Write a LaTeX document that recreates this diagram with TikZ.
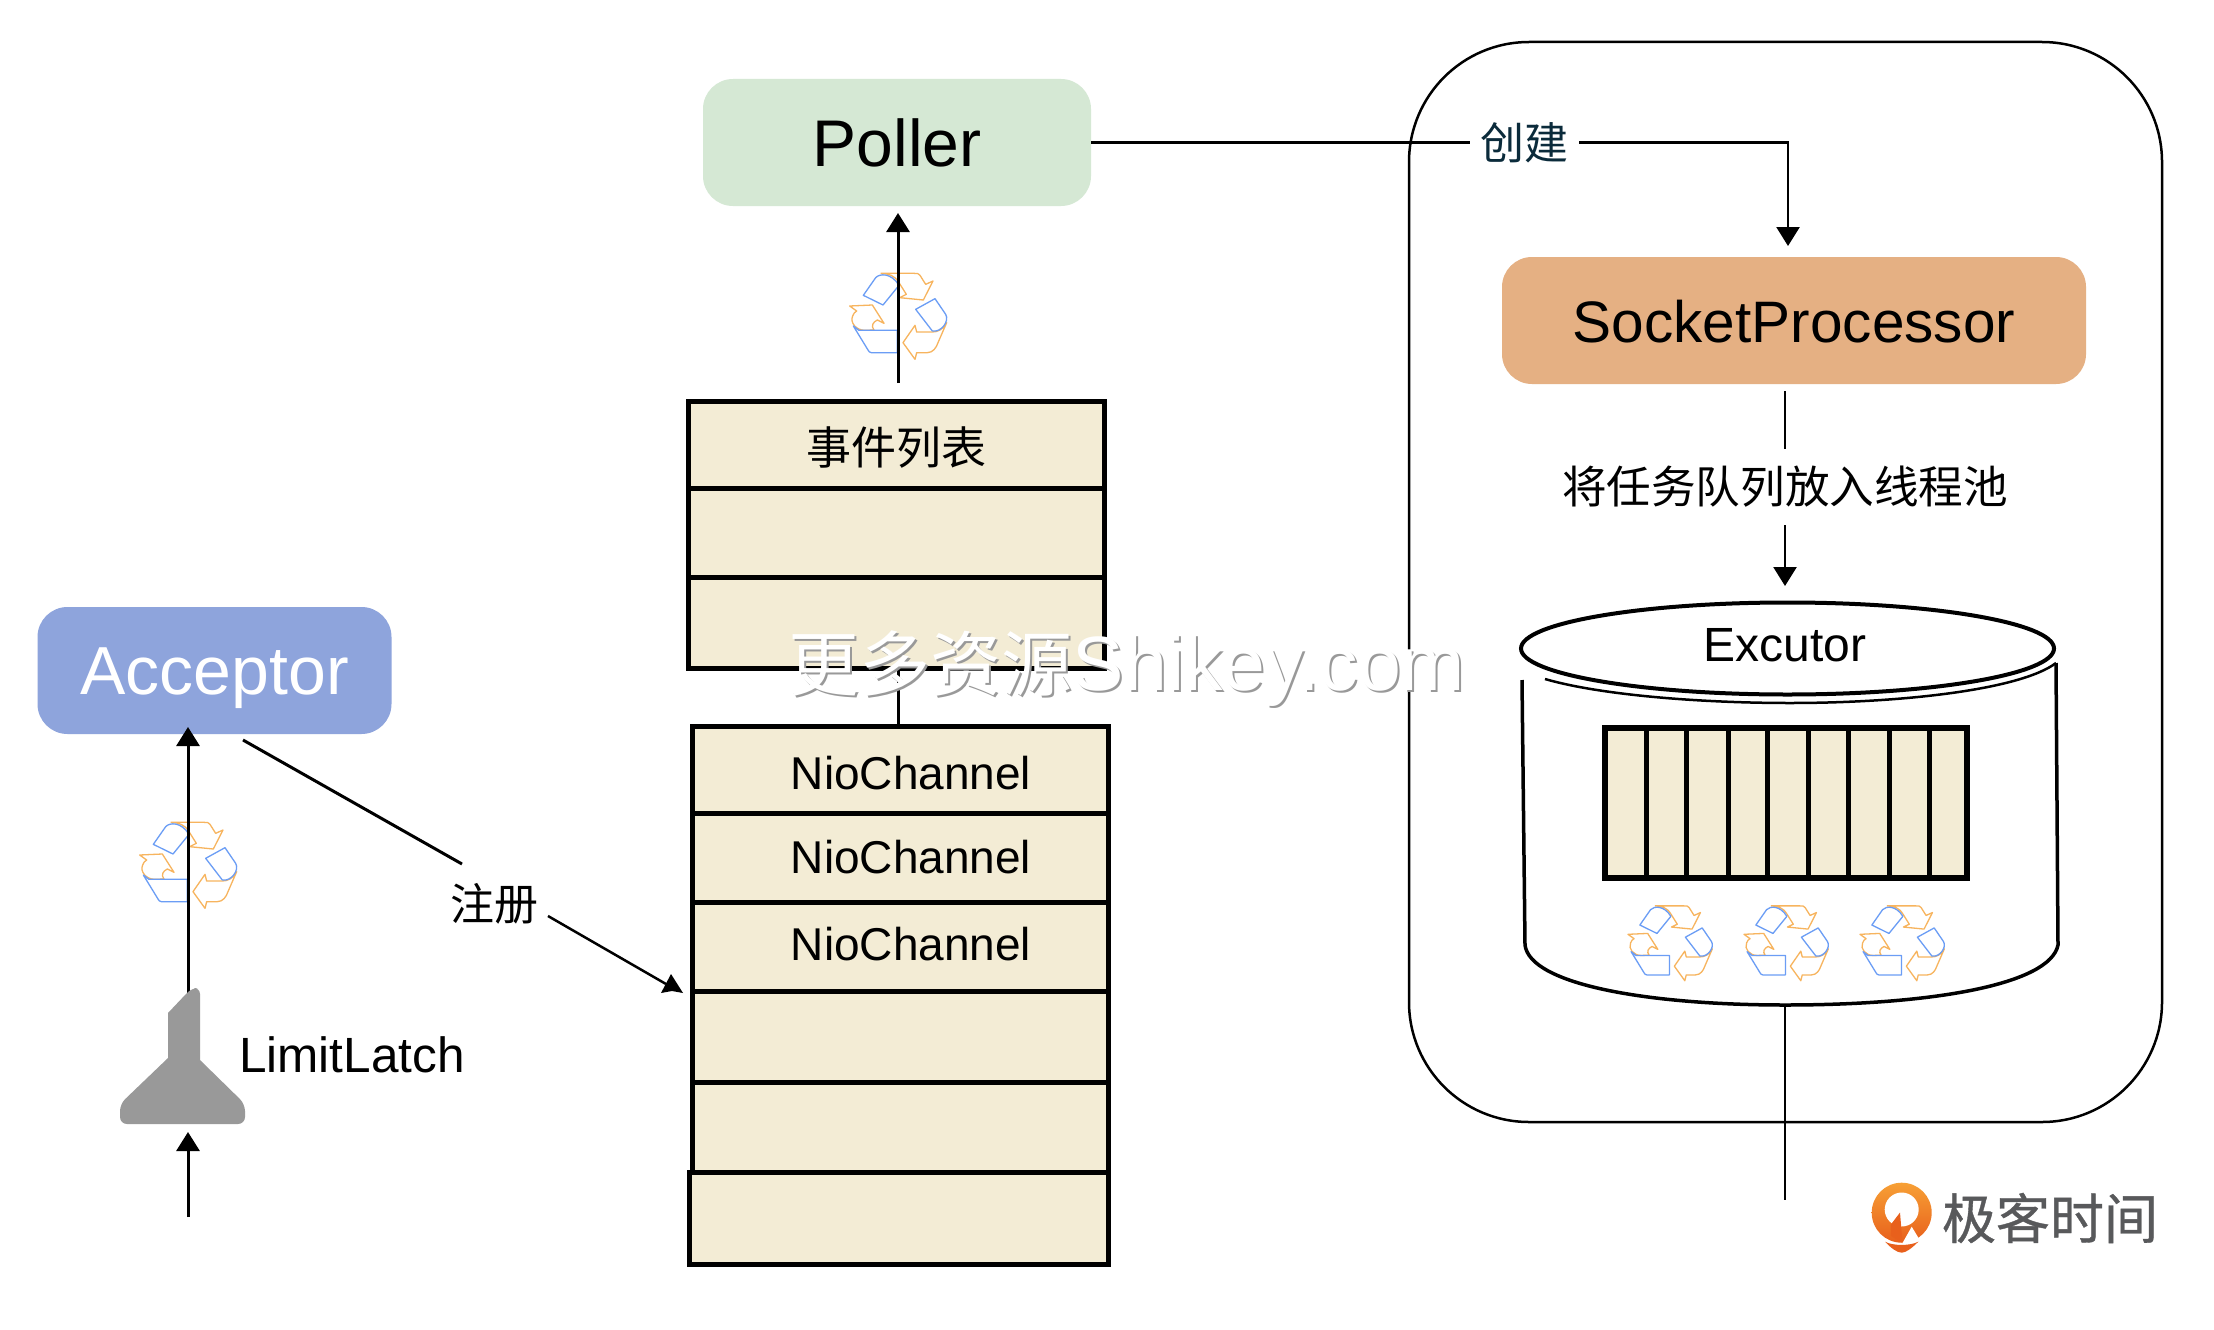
\documentclass[tikz,border=0pt]{standalone}
\usepackage{fontspec}
\setmainfont{Liberation Sans}
\newfontfamily\cjk{Noto Sans CJK SC}
\newfontfamily\cjkb[FakeBold=0.7]{Noto Sans CJK SC}
\usetikzlibrary{arrows.meta,shapes.geometric,calc}
\newcommand{\fs}[1]{\fontsize{#1}{#1}\selectfont}
\newcommand{\dn}[2]{\raisebox{0pt}[\dimexpr\height+2\dimexpr#1\relax\relax][\depth]{#2}}
\tikzset{
  colbox/.style={rounded corners=30pt,minimum width=#1,inner sep=0pt,outer sep=0pt,minimum height=127pt},
  cell/.style={draw=black,line width=5pt,fill=cellfill,minimum width=416pt,inner sep=0pt,outer sep=0pt,font=\fs{46}},
  conn/.style={line width=3pt,-{Triangle[width=23pt,length=19pt]}},
  plainln/.style={line width=3pt},
  lab/.style={inner sep=0pt,outer sep=0pt},
  iconblue/.style={draw=iblue,line width=1.3pt,line join=round},
  iconorange/.style={draw=iorange,line width=1.3pt,line join=round},
  thinln/.style={line width=2.5pt}
}
\definecolor{cellfill}{HTML}{F3ECD5}
\definecolor{iblue}{HTML}{6B9DF5}
\definecolor{iorange}{HTML}{F7B45E}
\definecolor{pollerc}{HTML}{D5E8D4}
\definecolor{accc}{HTML}{8EA4DC}
\definecolor{sockc}{HTML}{E5B083}
\definecolor{teal}{HTML}{0B2B3B}
\definecolor{logogray}{HTML}{58595B}
\definecolor{logotop}{HTML}{F7A035}
\definecolor{logobot}{HTML}{E8601C}
\newcommand{\recycle}[3]{%
\begin{scope}[shift={(#1,#2)},x=#3*0.3333pt,y=-#3*0.3333pt]
\draw[iconorange] (-52,-128)--(48,-128)..controls(58,-128)and(62,-128)..(66,-122)--(83,-95)--(105,-105)--(76,-48)--(5,-55)--(25,-65)--(3,-100)..controls(-10,-122)and(-30,-128)..(-52,-128);
\draw[iconorange] (-145,-30)--(-77,-33)--(-42,22)--(-62,12)..controls(-75,18)and(-82,30)..(-72,42)--(-100,43)..controls(-125,43)and(-145,20)..(-136,0)..controls(-133,-8)and(-130,-12)..(-124,-15)--cycle;
\draw[iconorange] (146,20)..controls(135,40)and(120,48)..(103,48)--(56,48)--(51,28)--(15,80)--(51,130)--(56,110)--(88,110)..controls(105,110)and(115,95)..(120,80)--cycle;
\draw[iconblue] (-104,-62)--(-67,-115)..controls(-55,-128)and(-20,-130)..(3,-92)--(-45,-33)--cycle;
\draw[iconblue] (53,-20)--(111,-52)--(143,-5)..controls(155,15)and(130,50)..(103,45)--cycle;
\draw[iconblue] (-134,30)--(-117,43)--(-2,43)--(-2,110)--(-80,110)..controls(-85,110)and(-88,106)..(-90,102)--cycle;
\end{scope}}
\begin{document}
\begin{tikzpicture}[x=1pt,y=-1pt]
\useasboundingbox (0,0) rectangle (2214,1330);
\fill[white] (0,0) rectangle (2214,1330);

% outer container
\draw[line width=2.5pt,rounded corners=120pt] (1409,42) rectangle (2162,1122);

% coloured boxes
\node[colbox=388pt,fill=pollerc,font=\fs{66}] (poller) at (897,142.5) {Poller};
\node[colbox=354pt,fill=accc,text=white,font=\fs{68}] (acceptor) at (214.5,670.5) {\dn{8pt}{Acceptor}};
\node[colbox=584pt,fill=sockc,font=\fs{58.5}] (sock) at (1794,320.5) {\dn{1.5pt}{SocketProcessor}};

% event list
\node[cell,minimum height=88pt] (e1) at (896.5,445) {\dn{3pt}{\cjk\fs{45}事件列表}};
\node[cell,minimum height=88.5pt] (e2) at (896.5,533.2) {};
\node[cell,minimum height=90.5pt] (e3) at (896.5,622.8) {};

% channel list
\node[cell,minimum height=87pt] (n1) at (900,769.5) {\hspace*{22pt}\dn{4pt}{NioChannel}};
\node[cell,minimum height=89pt] (n2) at (900,857.5) {\hspace*{22pt}NioChannel};
\node[cell,minimum height=89pt] (n3) at (900,946.5) {\hspace*{22pt}\dn{-2pt}{NioChannel}};
\node[cell,minimum height=91pt] (n4) at (900,1036.5) {};
\node[cell,minimum height=90pt] (n5) at (900,1127) {};
\node[cell,minimum width=419pt,minimum height=92pt] (n6) at (898.5,1218) {};

% connector anchors
\coordinate (pollerIn) at (898,213);
\coordinate (listOut) at (898,383);
\coordinate (listA) at (898,668);
\coordinate (listB) at (898,726);
\coordinate (accIn) at (188,727);
\coordinate (funnelTop) at (188,994);
\coordinate (funnelIn) at (188,1132);
\coordinate (inStart) at (188,1217);
\coordinate (regStart) at (243,740);
\coordinate (regA) at (462,864);
\coordinate (regB) at (548,916);
\coordinate (regEnd) at (666,984);
\coordinate (sockIn) at (1788,246);
\coordinate (sockOut) at (1785,391);
\coordinate (taskA) at (1785,449);
\coordinate (taskB) at (1785,525);
\coordinate (poolIn) at (1785,586);
\coordinate (poolOut) at (1785,1006);
\coordinate (poolEnd) at (1785,1200);

% recycle icons
\recycle{898}{316}{1}
\recycle{188}{865}{1}
\recycle{1670}{943}{0.87}
\recycle{1786}{943}{0.87}
\recycle{1902}{943}{0.87}

% left column connectors
\draw[conn] (listOut) -- (pollerIn);
\draw[plainln] (listA) -- (listB);
\draw[conn] (funnelTop) -- (accIn);
\draw[conn] (inStart) -- (funnelIn);

% funnel
\fill[black!40,line join=round] (168,1058)[sharp corners]--(168,1013)--(186,994)[rounded corners=6pt]--(192,988)--(200,988)[sharp corners]--(200,1060)[rounded corners=7pt]--(245,1104)--(245,1124)--(120,1124)--(120,1104)[sharp corners]--cycle;
\node[lab,font=\fs{49.5},anchor=west] (latch) at (239,1055) {LimitLatch};

% register
\node[lab,font=\cjk\fs{44}] (reg) at (494,904) {注册};
\draw[plainln] (regStart) -- (regA);
\draw[thinln] (regB) -- (regEnd);
\fill (671,974) -- (683,993) -- (672,991) -- (661,993) -- cycle;

% poller to socket
\node[lab,font=\cjk\fs{44},text=teal] (create) at (1524,143) {创建};
\draw[thinln] (poller.east) -- (1470,142.5);
\draw[thinln,-{Triangle[width=23pt,length=19pt]}] (1579,142.5) -| (sockIn);

% socket to pool
\node[lab,font=\cjk\fs{44.6}] (task) at (1785,487) {将任务队列放入线程池};
\draw[thinln] (sockOut) -- (taskA);
\draw[thinln,-{Triangle[width=23pt,length=19pt]}] (taskB) -- (poolIn);

% cylinder
\draw[line width=3.5pt] (1522,680) -- (1525,945) .. controls (1530,985) and (1650,1005) .. (1785,1005) .. controls (1930,1005) and (2050,985) .. (2058,945) -- (2056,663);
\draw[line width=2.5pt] (1545,679) .. controls (1600,695) and (1700,703) .. (1790,703) .. controls (1900,703) and (2020,690) .. (2056,663);
\node[ellipse,draw=black,line width=4pt,fill=white,minimum width=533pt,minimum height=92pt,inner sep=0pt,outer sep=0pt] (exc) at (1787.5,648.5) {};
\node[lab,font=\fs{48}] (exclab) at (1785,645) {Excutor};
\draw[thinln] (poolOut) -- (poolEnd);

% thread queue
\node[draw=black,line width=5.5pt,fill=cellfill,minimum width=362pt,minimum height=150pt,inner sep=0pt,outer sep=0pt] (queue) at (1786,803) {};
\foreach \qx in {1646,1686.5,1728,1767,1808,1848,1889,1929}
  \draw[line width=5pt] (\qx,728) -- (\qx,878);

% logo
\shade[top color=logotop,bottom color=logobot] (1901.7,1212.7) circle (30pt);
\fill[white] (1901.7,1209.5) circle (17pt);
\fill[logobot] (1900,1212.5) -- (1890.5,1225) -- (1891,1236) -- (1902.5,1243) -- cycle;
\fill[white] (1902.5,1243) -- (1911.7,1226.7) -- (1918.5,1238) -- (1913,1245) -- cycle;
\fill[logobot] (1885,1241.7) .. controls (1893,1246) and (1910,1246) .. (1918.3,1241.7) .. controls (1912,1248) and (1906,1252.7) .. (1901.7,1252.7) .. controls (1897,1252.7) and (1891,1248) .. (1885,1241.7) -- cycle;
\node[lab,font=\cjkb\fs{54},text=logogray] (logo) at (2050,1218) {极客时间};

% watermark
\node[lab,text=black!40,font=\fs{77}] (wmshadow) at (1129,671) {{\cjk\fs{71}更多资源}Shikey.com};
\node[lab,text=white,font=\fs{77}] (wm) at (1127,669) {{\cjk\fs{71}更多资源}Shikey.com};
\end{tikzpicture}
\end{document}
